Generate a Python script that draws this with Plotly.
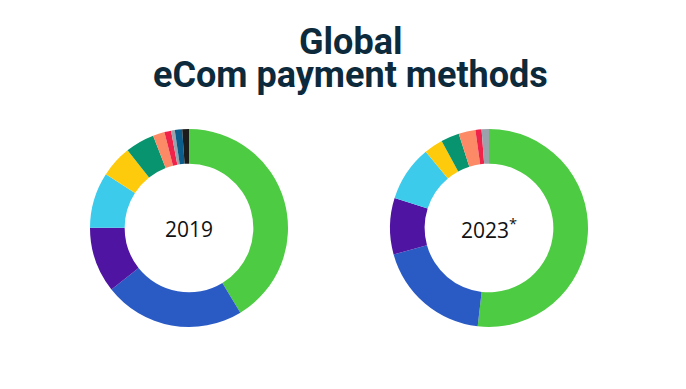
import plotly.graph_objects as go

methods = ["Digital wallet", "Credit card", "Debit card", "Bank transfer", "Buy now pay later",
           "Cash on delivery", "Prepaid card", "Direct debit", "PostPay", "Pre-pay", "Other"]
share_2019 = [41.3, 23.0, 10.7, 9.1, 5.2, 4.75, 1.9, 1.1, 0.6, 1.2, 1.1]
share_2023 = [51.9, 18.9, 9.2, 9.1, 3.1, 3.0, 2.75, 1.0, 1.2, 0.0, 0.0]
colors = ["#4dcb42", "#2a5bc5", "#4f14a2", "#3dcbec", "#fdcb0b", "#07946e",
          "#fc8a66", "#f0224a", "#9ba2ab", "#0b5d8c", "#1c1c1c"]
years = ["2019", "2023<sup>*</sup>"]
title_lines = ["Global", "eCom payment methods"]

W, H = 686, 389
OFF = 8  # page body margin
R = 99

def px_x(x):
    return (x - OFF) / W

def px_y(y):
    return 1 - (y - OFF) / H

def dom(cx, cy):
    return dict(x=[px_x(cx - R), px_x(cx + R)], y=[px_y(cy + R), px_y(cy - R)])

fig = go.Figure()
for vals, (cx, cy) in [(share_2019, (189, 228)), (share_2023, (489, 228))]:
    fig.add_trace(go.Pie(
        labels=methods, values=vals, hole=0.65, sort=False, direction="clockwise",
        rotation=0, marker=dict(colors=colors, line=dict(width=0)),
        textinfo="none", hoverinfo="label+percent", showlegend=False,
        domain=dom(cx, cy)))

for yr, cx in zip(years, [189, 489]):
    fig.add_annotation(x=px_x(cx), y=px_y(229), xref="paper", yref="paper",
                       xanchor="center", yanchor="middle",
                       text=yr, showarrow=False,
                       font=dict(family="Open Sans", size=21, color="#111111"))

for line, cy in zip(title_lines, [42, 75]):
    fig.add_annotation(x=px_x(350), y=px_y(cy), xref="paper", yref="paper",
                       xanchor="center", yanchor="middle",
                       text="<b>" + line + "</b>", showarrow=False,
                       font=dict(family="Roboto", size=36, color="#0c2a3b"))

fig.update_layout(width=W, height=H, margin=dict(l=0, r=0, t=0, b=0),
                  paper_bgcolor="white", plot_bgcolor="white")
fig.write_html("out.html")
